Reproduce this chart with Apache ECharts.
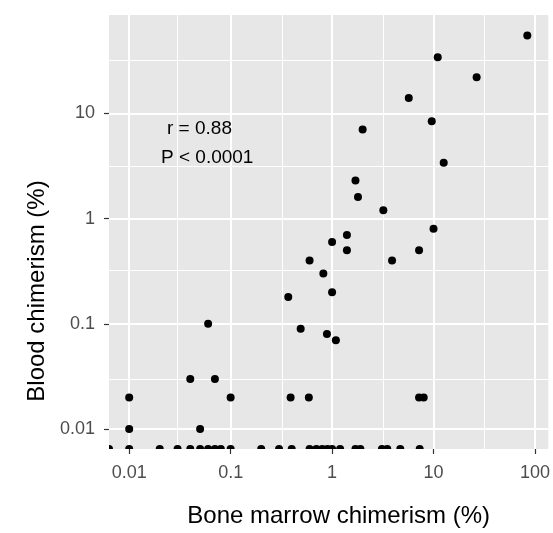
<!DOCTYPE html>
<html><head><meta charset="utf-8">
<script src="https://cdn.jsdelivr.net/npm/echarts@6/dist/echarts.min.js"></script>
<style>html,body{margin:0;padding:0;background:#fff}#c{width:553px;height:533px}</style>
</head><body><div id="c"></div>
<script>
// Detected chimerism in both compartments (%)
const boneMarrow = [84, 11, 26.6, 5.7, 9.6, 2.0, 12.6, 1.7, 1.8, 3.2, 10, 1.4, 1.0, 1.4, 7.2, 0.6, 3.9, 0.82, 1.0, 0.37, 0.49, 0.89, 1.09, 0.06, 0.04, 0.07, 0.01, 0.1, 0.39, 0.59, 7.2, 8.0, 0.01, 0.05];
const blood      = [55, 34, 22, 14, 8.4, 7.0, 3.4, 2.3, 1.6, 1.2, 0.8, 0.7, 0.6, 0.5, 0.5, 0.4, 0.4, 0.3, 0.2, 0.18, 0.09, 0.08, 0.07, 0.1, 0.03, 0.03, 0.02, 0.02, 0.02, 0.02, 0.02, 0.02, 0.01, 0.01];
// Blood chimerism = 0 (drawn on the lower panel edge, as on a log scale)
const boneMarrowZeroBlood = [0, 0.01, 0.02, 0.03, 0.04, 0.05, 0.06, 0.07, 0.08, 0.1, 0.2, 0.3, 0.4, 0.6, 0.7, 0.8, 0.9, 1.0, 1.2, 1.7, 1.9, 3.1, 3.5, 4.7, 7.3];

const xTicks = [0.01, 0.1, 1, 10, 100];
const xTickLabels = ['0.01', '0.1', '1', '10', '100'];
const yTicks = [0.01, 0.1, 1, 10];
const yTickLabels = ['0.01', '0.1', '1', '10'];
const xMinorBreaks = [Math.pow(10, -1.5), Math.pow(10, -0.5), Math.pow(10, 0.5), Math.pow(10, 1.5)];
const yMinorBreaks = [Math.pow(10, -1.5), Math.pow(10, -0.5), Math.pow(10, 0.5), Math.pow(10, 1.5)];
const annotationLines = ['r = 0.88', 'P < 0.0001'];
const xTitle = 'Bone marrow chimerism (%)';
const yTitle = 'Blood chimerism (%)';

const X_MIN = Math.pow(10, -2.199), X_MAX = Math.pow(10, 2.131);
const Y_MIN = Math.pow(10, -2.189), Y_MAX = Math.pow(10, 1.934);

function labelFor(ticks, labels) {
  return function (v) {
    for (let i = 0; i < ticks.length; i++) {
      if (Math.abs(Math.log10(v) - Math.log10(ticks[i])) < 1e-6) return labels[i];
    }
    return '';
  };
}

const FONT = '"Liberation Sans", Arial, Helvetica, sans-serif';
const detected = boneMarrow.map((x, i) => [x, blood[i]]);
const zeroPts = boneMarrowZeroBlood.filter(x => x > 0).map(x => [x, Y_MIN]);
const cornerPts = boneMarrowZeroBlood.filter(x => x === 0).map(() => [X_MIN, Y_MIN]);

const chart = echarts.init(document.getElementById('c'), null, { renderer: 'canvas' });
chart.setOption({
  animation: false,
  backgroundColor: '#ffffff',
  textStyle: { fontFamily: FONT },
  grid: { left: 109, right: 1, top: 15, bottom: 81, show: true, backgroundColor: '#E7E7E7', borderWidth: 0 },
  xAxis: {
    type: 'log', logBase: 10, min: X_MIN, max: X_MAX,
    name: xTitle, nameLocation: 'middle', nameGap: 55,
    nameTextStyle: { fontSize: 24, color: '#000', fontFamily: FONT, padding: [0, 0, 0, 20] },
    axisLine: { show: false },
    axisTick: { show: true, length: 5, lineStyle: { color: '#333', width: 1.2 }, customValues: xTicks },
    axisLabel: { fontSize: 18, color: '#4D4D4D', margin: 15, fontFamily: FONT, customValues: xTicks, formatter: labelFor(xTicks, xTickLabels) },
    splitLine: { show: true, lineStyle: { color: '#fff', width: 2 } },
    minorSplitLine: { show: false }
  },
  yAxis: {
    type: 'log', logBase: 10, min: Y_MIN, max: Y_MAX,
    name: yTitle, nameLocation: 'middle', nameGap: 55, nameRotate: 90,
    nameTextStyle: { fontSize: 24, color: '#000', fontFamily: FONT, padding: [0, 118, 0, 0] },
    axisLine: { show: false },
    axisTick: { show: true, length: 5, lineStyle: { color: '#333', width: 1.2 }, customValues: yTicks },
    axisLabel: { fontSize: 18, color: '#4D4D4D', margin: 14, fontFamily: FONT, customValues: yTicks, formatter: labelFor(yTicks, yTickLabels) },
    splitLine: { show: true, lineStyle: { color: '#fff', width: 2 } }
  },
  graphic: [
    { type: 'text', left: 200 - 33, top: 119, z: 10, style: { text: annotationLines[0], fontSize: 19, fill: '#000', font: '19px ' + FONT } },
    { type: 'text', left: 207 - 46, top: 148, z: 10, style: { text: annotationLines[1], fontSize: 19, fill: '#000', font: '19px ' + FONT } }
  ],
  series: [
    {
      name: 'gridMinor', type: 'scatter', data: [], silent: true, z: 1,
      markLine: {
        silent: true, z: 1, symbol: ['none', 'none'], label: { show: false },
        lineStyle: { color: '#ffffff', width: 1, type: 'solid', opacity: 1 },
        emphasis: { disabled: true },
        animation: false,
        data: xMinorBreaks.map(v => ({ xAxis: v })).concat(yMinorBreaks.map(v => ({ yAxis: v })))
      }
    },
    {
      name: 'detected', type: 'scatter', z: 3, symbol: 'circle', symbolSize: 8,
      itemStyle: { color: '#000', opacity: 1 }, data: detected, clip: false
    },
    {
      name: 'bloodZero', type: 'scatter', z: 3, clip: false,
      symbol: 'path://M0,10A10,10 0 0 1 20,10Z', symbolSize: [8, 4], symbolOffset: [0, -2],
      itemStyle: { color: '#000', opacity: 1 }, data: zeroPts
    },
    {
      name: 'bothZero', type: 'scatter', z: 3, clip: false,
      symbol: 'path://M0,10L0,0A10,10 0 0 1 10,10Z', symbolSize: [4, 4], symbolOffset: [2, -2],
      itemStyle: { color: '#000', opacity: 1 }, data: cornerPts
    }
  ]
});
</script></body></html>
